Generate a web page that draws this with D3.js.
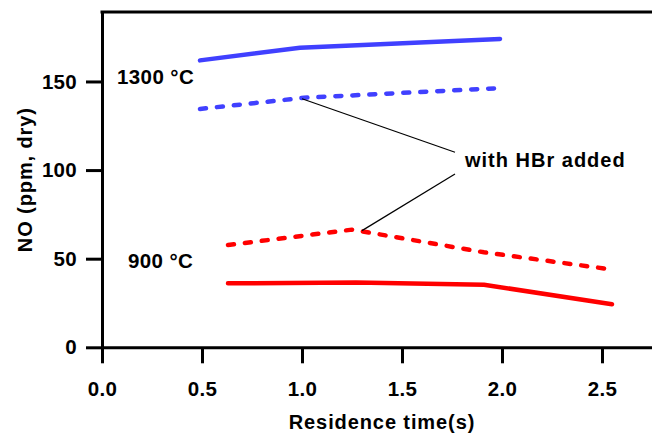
<!DOCTYPE html>
<html><head><meta charset="utf-8">
<script src="https://cdn.jsdelivr.net/npm/d3@7"></script>
<style>body{margin:0;background:#fff}text{font-family:"Liberation Sans",Arial,sans-serif;font-weight:bold}</style>
</head><body><svg id="c" width="652" height="433"></svg>
<script>
const xTicks = [0, 0.5, 1.0, 1.5, 2.0, 2.5];
const yTicks = [0, 50, 100, 150];
const hot = [[0.49, 161.9], [0.99, 169.0], [1.99, 174.0]];
const hotHBr = [[0.49, 134.5], [1.01, 140.8], [1.96, 146.1]];
const cold = [[0.63, 36.1], [1.27, 36.6], [1.91, 35.3], [2.55, 24.3]];
const coldHBr = [[0.63, 57.7], [1.25, 66.4], [1.91, 53.6], [2.53, 44.2]];
const labels = ["1300 °C", "900 °C", "with HBr added"];
const axisTitles = ["Residence time(s)", "NO (ppm, dry)"];

const svg = d3.select("#c");
const m = {l: 102, r: 0, t: 12, b: 86};
const x = d3.scaleLinear().domain([0, 2.75]).range([m.l, 652]);
const y = d3.scaleLinear().domain([0, 189.2]).range([347.3, m.t]);

const gx = svg.append("g").attr("transform", `translate(0,${y(0)})`)
  .call(d3.axisBottom(x).tickValues(xTicks).tickFormat(d3.format(".1f")).tickSize(16).tickPadding(18).tickSizeOuter(0));
const gy = svg.append("g").attr("transform", `translate(${x(0)},0)`)
  .call(d3.axisLeft(y).tickValues(yTicks).tickSize(16).tickPadding(9).tickSizeOuter(0));
[gx, gy].forEach(g => {
  g.selectAll("path,line").attr("stroke", "#000").attr("stroke-width", 3);
  g.selectAll("text").attr("fill", "#000").style("font-size", "20.5px").style("font-family", '"Liberation Sans",Arial,sans-serif').style("font-weight", "bold").style("letter-spacing", "0.3px");
});
svg.append("line").attr("x1", x(0) - 1.5).attr("x2", 652).attr("y1", y(189.2)).attr("y2", y(189.2))
  .attr("stroke", "#000").attr("stroke-width", 3);

const line = d3.line().x(d => x(d[0])).y(d => y(d[1]));
const blue = "#4040ff", red = "#ff0000";
function draw(data, color, dashed) {
  svg.append("path").datum(data).attr("d", line).attr("fill", "none")
    .attr("stroke", color).attr("stroke-width", 4.5)
    .attr("stroke-linecap", "round").attr("stroke-linejoin", "round")
    .attr("stroke-dasharray", dashed ? "6,11" : null);
}
draw(hot, blue, false);
draw(hotHBr, blue, true);
draw(cold, red, false);
draw(coldHBr, red, true);

// annotation leaders
svg.append("line").attr("x1", x(hotHBr[1][0]) - 2).attr("y1", y(hotHBr[1][1]) + 1)
  .attr("x2", 455).attr("y2", 152.3).attr("stroke", "#000").attr("stroke-width", 1.2);
svg.append("line").attr("x1", x(coldHBr[1][0]) + 10).attr("y1", y(coldHBr[1][1]) + 1)
  .attr("x2", 455).attr("y2", 174).attr("stroke", "#000").attr("stroke-width", 1.2);

function label(t, px, py, opts = {}) {
  const e = svg.append("text").attr("x", px).attr("y", py).text(t)
    .style("font-size", (opts.size || 20) + "px").attr("fill", "#000");
  if (opts.ls) e.style("letter-spacing", opts.ls + "px");
  if (opts.anchor) e.attr("text-anchor", opts.anchor);
  return e;
}
label(labels[0], 117, 84, {ls: 0.4, size: 20.5});
label(labels[1], 128, 268, {ls: 0.4, size: 20.5});
label(labels[2], 465, 167, {ls: 1});
label(axisTitles[0], 382, 429, {anchor: "middle", ls: 0.9});
label(axisTitles[1], 0, 0, {anchor: "middle", ls: 0.9})
  .attr("transform", `translate(32,${(y(0) + y(189.2)) / 2}) rotate(-90)`);
</script></body></html>
